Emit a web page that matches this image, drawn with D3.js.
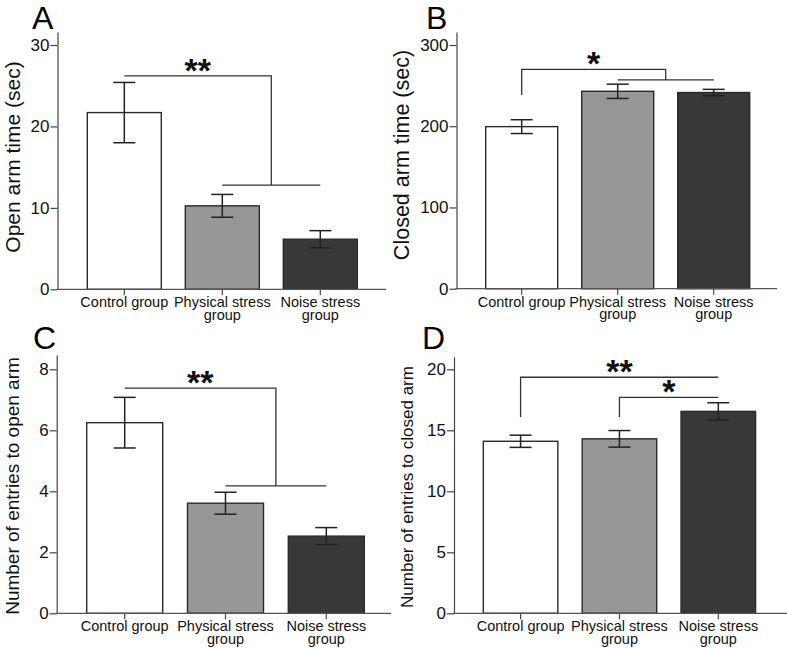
<!DOCTYPE html>
<html>
<head>
<meta charset="utf-8">
<script src="https://cdn.jsdelivr.net/npm/d3@7"></script>
<style>
  html, body { margin: 0; padding: 0; background: #fff; }
  svg { display: block; }
</style>
</head>
<body>
<svg id="chart" width="787" height="649"></svg>
<script>
// ---------- DATA ----------
const categories = ["Control group", "Physical stress group", "Noise stress group"];
const categoryLines = [["Control group"], ["Physical stress", "group"], ["Noise stress", "group"]];

const openArmTime = [21.7, 10.25, 6.15];
const openArmTimeSem = [3.7, 1.4, 1.05];

const closedArmTime = [199.5, 243, 241.5];
const closedArmTimeSem = [8.5, 8.8, 3.9];

const openArmEntries = [6.25, 3.61, 2.53];
const openArmEntriesSem = [0.83, 0.36, 0.28];

const closedArmEntries = [14.1, 14.3, 16.55];
const closedArmEntriesSem = [0.5, 0.68, 0.71];

const ticksA = [0, 10, 20, 30];
const ticksB = [0, 100, 200, 300];
const ticksC = [0, 2, 4, 6, 8];
const ticksD = [0, 5, 10, 15, 20];

const barFills = ["#ffffff", "#979797", "#383838"];

// significance brackets (values in data units)
const sigA = [{ type: "group", from: 0, to: [1, 2], y: 26.2, yGroup: 12.8, label: "**" }];
const sigB = [{ type: "group", from: 0, to: [1, 2], y: 270, yGroup: 257, yStart: 238.5, label: "*" }];
const sigC = [{ type: "group", from: 0, to: [1, 2], y: 7.38, yGroup: 4.18, label: "**" }];
const sigD = [
  { type: "pair", from: 0, to: 2, y: 19.35, yStart: 16.1, label: "**" },
  { type: "pair", from: 1, to: 2, y: 17.7, yStart: 16.1, label: "*" }
];

// ---------- LAYOUT ----------
const panels = [
  { letter: "A", lx: 32, ly: 29, values: openArmTime, sem: openArmTimeSem, ticks: ticksA, sig: sigA,
    ylabel: "Open arm time (sec)", ylabelSize: 21, ylabelX: 20, ylabelY: 157,
    axisX: 57.5, y0: 289.3, yTickTopPx: 45, yTopPx: 32, bandRange: [63.3, 381.3], pad: 0.245, xAxisEnd: 386 },
  { letter: "B", lx: 426, ly: 29, values: closedArmTime, sem: closedArmTimeSem, ticks: ticksB, sig: sigB,
    ylabel: "Closed arm time (sec)", ylabelSize: 21.5, ylabelX: 409, ylabelY: 155,
    axisX: 456.5, y0: 288.7, yTickTopPx: 45, yTopPx: 32, bandRange: [461.7, 773.7], pad: 0.25, xAxisEnd: 777 },
  { letter: "C", lx: 33, ly: 349, values: openArmEntries, sem: openArmEntriesSem, ticks: ticksC, sig: sigC,
    ylabel: "Number of entries to open arm", ylabelSize: 19, ylabelX: 19, ylabelY: 486,
    axisX: 56.7, y0: 613.3, yTickTopPx: 369.3, yTopPx: 355, bandRange: [61.9, 389.1], pad: 0.246, xAxisEnd: 391 },
  { letter: "D", lx: 422, ly: 349, values: closedArmEntries, sem: closedArmEntriesSem, ticks: ticksD, sig: sigD,
    ylabel: "Number of entries to closed arm", ylabelSize: 17, ylabelX: 413, ylabelY: 487,
    axisX: 454, y0: 613.3, yTickTopPx: 369.3, yTopPx: 356.7, bandRange: [459, 779.9], pad: 0.246, xAxisEnd: 787 }
];

const FONT = "'Liberation Sans', Arial, Helvetica, sans-serif";
const svg = d3.select("#chart");

panels.forEach(p => {
  const g = svg.append("g");
  const tMax = p.ticks[p.ticks.length - 1];
  const yBase = d3.scaleLinear().domain([0, tMax]).range([p.y0, p.yTickTopPx]);
  const y = yBase.copy().domain([0, yBase.invert(p.yTopPx)]).range([p.y0, p.yTopPx]);
  const x = d3.scaleBand().domain(categories).range(p.bandRange).paddingInner(p.pad).paddingOuter(p.pad);
  const cx = i => x(categories[i]) + x.bandwidth() / 2;

  // bars
  g.selectAll("rect.bar").data(p.values).join("rect")
    .attr("class", "bar")
    .attr("x", (d, i) => x(categories[i]))
    .attr("y", d => y(d))
    .attr("width", x.bandwidth())
    .attr("height", d => y(0) - y(d))
    .attr("fill", (d, i) => barFills[i])
    .attr("stroke", "#2a2a2a")
    .attr("stroke-width", 1.4);

  // error bars
  const capW = 11;
  p.values.forEach((v, i) => {
    const c = cx(i), hi = y(v + p.sem[i]), lo = y(v - p.sem[i]);
    g.append("line").attr("x1", c).attr("x2", c).attr("y1", hi).attr("y2", lo)
      .attr("stroke", "#222").attr("stroke-width", 1.5);
    [hi, lo].forEach(yy => g.append("line").attr("x1", c - capW).attr("x2", c + capW)
      .attr("y1", yy).attr("y2", yy).attr("stroke", "#222").attr("stroke-width", 1.5));
  });

  // y axis
  const ya = g.append("g").attr("transform", `translate(${p.axisX},0)`)
    .call(d3.axisLeft(y).tickValues(p.ticks).tickSize(7).tickSizeOuter(0).tickFormat(d3.format("d")));
  ya.select(".domain").attr("stroke", "#444").attr("stroke-width", 1.2);
  ya.selectAll(".tick line").attr("stroke", "#444").attr("stroke-width", 1.2);
  ya.selectAll(".tick text").attr("font-family", FONT).attr("font-size", 17).attr("fill", "#111").attr("x", -8);

  // x axis
  const xa = g.append("g").attr("transform", `translate(0,${p.y0})`)
    .call(d3.axisBottom(x).tickSize(6).tickSizeOuter(0).tickFormat(""));
  xa.select(".domain").remove();
  xa.selectAll(".tick line").attr("stroke", "#444").attr("stroke-width", 1.2);
  g.append("line").attr("x1", p.axisX - 1).attr("x2", p.xAxisEnd)
    .attr("y1", p.y0).attr("y2", p.y0).attr("stroke", "#555").attr("stroke-width", 1.3);

  categoryLines.forEach((lines, i) => {
    const t = g.append("text").attr("font-family", FONT).attr("font-size", 14.5).attr("fill", "#111")
      .attr("text-anchor", "middle").attr("x", cx(i)).attr("y", p.y0 + 18);
    lines.forEach((ln, k) => t.append("tspan").attr("x", cx(i)).attr("dy", k === 0 ? 0 : 12.5).text(ln));
  });

  // y label
  g.append("text").attr("font-family", FONT).attr("font-size", p.ylabelSize).attr("fill", "#111")
    .attr("text-anchor", "middle")
    .attr("transform", `translate(${p.ylabelX},${p.ylabelY}) rotate(-90)`)
    .text(p.ylabel);

  // panel letter
  g.append("text").attr("font-family", FONT).attr("font-size", 32)
    .attr("fill", "#000").attr("x", p.lx).attr("y", p.ly).text(p.letter);

  // significance
  p.sig.forEach(s => {
    const yt = y(s.y);
    let xl = cx(s.from), xr;
    const path = d3.path();
    if (s.type === "group") {
      const gx1 = cx(s.to[0]), gx2 = cx(s.to[1]);
      xr = (gx1 + gx2) / 2;
      const yg = y(s.yGroup);
      if (s.yStart !== undefined) { path.moveTo(xl, y(s.yStart)); path.lineTo(xl, yt); } else { path.moveTo(xl, yt); }
      path.lineTo(xr, yt); path.lineTo(xr, yg);
      path.moveTo(gx1, yg); path.lineTo(gx2, yg);
    } else {
      xr = cx(s.to);
      path.moveTo(xl, y(s.yStart)); path.lineTo(xl, yt); path.lineTo(xr, yt);
    }
    g.append("path").attr("d", path.toString()).attr("stroke", "#333").attr("stroke-width", 1.3).attr("fill", "none");
    g.append("text").attr("font-family", FONT).attr("font-weight", "bold").attr("font-size", 34)
      .attr("text-anchor", "middle").attr("fill", "#111")
      .attr("x", (xl + xr) / 2).attr("y", yt + 6).text(s.label);
  });
});
</script>
</body>
</html>
